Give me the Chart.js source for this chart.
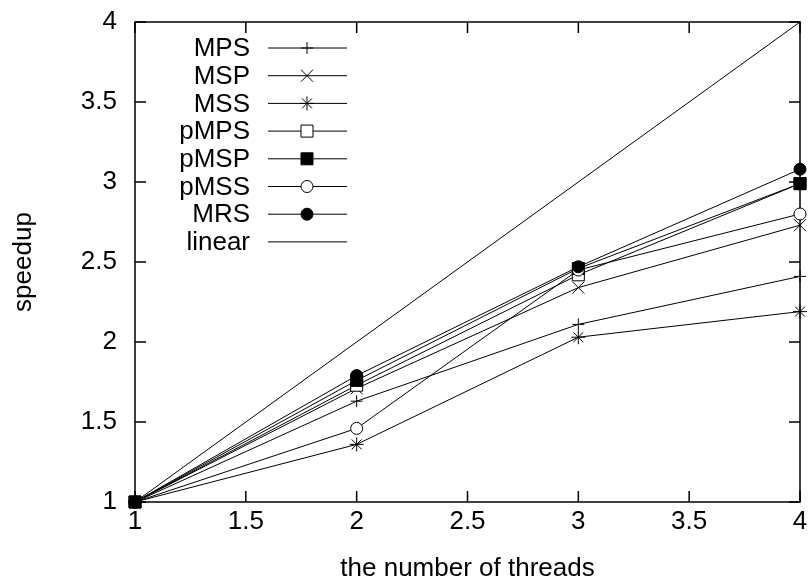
<!DOCTYPE html>
<html>
<head>
<meta charset="utf-8">
<script src="https://cdn.jsdelivr.net/npm/chart.js@4/dist/chart.umd.min.js"></script>
<style>
html,body{margin:0;padding:0;background:#fff;}
#wrap{width:811px;height:586px;position:relative;}
</style>
</head>
<body>
<div id="wrap"><canvas id="c"></canvas></div>
<script>
// ---- data ----
const threads = [1, 2, 3, 4];
const seriesNames = ['MPS', 'MSP', 'MSS', 'pMPS', 'pMSP', 'pMSS', 'MRS', 'linear'];
const MPS    = [1, 1.63, 2.11, 2.41];
const MSP    = [1, 1.71, 2.34, 2.73];
const MSS    = [1, 1.36, 2.03, 2.19];
const pMPS   = [1, 1.73, 2.42, 2.99];
const pMSP   = [1, 1.76, 2.46, 2.99];
const pMSS   = [1, 1.46, 2.45, 2.80];
const MRS    = [1, 1.79, 2.47, 3.08];
const linear = [1, 2, 3, 4];
const xTicks = [1, 1.5, 2, 2.5, 3, 3.5, 4];
const yTicks = [1, 1.5, 2, 2.5, 3, 3.5, 4];
const xTickLabels = ['1', '1.5', '2', '2.5', '3', '3.5', '4'];
const yTickLabels = ['1', '1.5', '2', '2.5', '3', '3.5', '4'];

const FONT = '"Liberation Sans", Arial, sans-serif';
const FS = 26;

const styles = [
  {pointStyle: 'cross',    radius: 6,   fill: '#000'},
  {pointStyle: 'crossRot', radius: 8.5, fill: '#000'},
  {pointStyle: 'star',     radius: 7,   fill: '#000'},
  {pointStyle: 'rect',     radius: 8.5, fill: '#fff'},
  {pointStyle: 'rect',     radius: 8.5, fill: '#000'},
  {pointStyle: 'circle',   radius: 6,   fill: '#fff'},
  {pointStyle: 'circle',   radius: 6,   fill: '#000'},
  {pointStyle: false,      radius: 0,   fill: '#000'}
];
const allValues = [MPS, MSP, MSS, pMPS, pMSP, pMSS, MRS, linear];

const datasets = allValues.map((vals, i) => ({
  label: seriesNames[i],
  data: threads.map((t, k) => ({x: t, y: vals[k]})),
  borderColor: '#000',
  borderWidth: 1,
  backgroundColor: styles[i].fill,
  pointStyle: styles[i].pointStyle,
  pointRadius: styles[i].radius,
  pointHoverRadius: styles[i].radius,
  pointBorderColor: '#000',
  pointBackgroundColor: styles[i].fill,
  pointBorderWidth: 1,
  tension: 0,
  fill: false,
  clip: false,
  order: allValues.length - i
}));

// frame + inward ticks on all four sides
const framePlugin = {
  id: 'frame',
  beforeDatasetsDraw(chart) {
    const {ctx, chartArea: a, scales} = chart;
    ctx.save();
    ctx.strokeStyle = '#000';
    ctx.lineWidth = 1.5;
    ctx.strokeRect(a.left, a.top, a.right - a.left, a.bottom - a.top);
    const tl = 11;
    ctx.beginPath();
    xTicks.forEach(v => {
      const px = scales.x.getPixelForValue(v);
      ctx.moveTo(px, a.bottom); ctx.lineTo(px, a.bottom - tl);
      ctx.moveTo(px, a.top); ctx.lineTo(px, a.top + tl);
    });
    yTicks.forEach(v => {
      const py = scales.y.getPixelForValue(v);
      ctx.moveTo(a.left, py); ctx.lineTo(a.left + tl, py);
      ctx.moveTo(a.right, py); ctx.lineTo(a.right - tl, py);
    });
    ctx.stroke();
    ctx.restore();
  }
};

// gnuplot-style legend: right-aligned text, then line sample with marker
const legendPlugin = {
  id: 'gpLegend',
  afterDraw(chart) {
    const {ctx, chartArea: a} = chart;
    const textRight = a.left + 115;
    const lineL = a.left + 133, lineR = a.left + 212, mark = a.left + 172;
    const top = a.top + 26, step = 27.7;
    chart.data.datasets.forEach((ds, i) => {
      const y = top + i * step;
      ctx.save();
      ctx.font = FS + 'px ' + FONT;
      ctx.fillStyle = '#000';
      ctx.textAlign = 'right';
      ctx.textBaseline = 'middle';
      ctx.fillText(ds.label, textRight, y + 1);
      ctx.strokeStyle = '#000';
      ctx.lineWidth = 1;
      ctx.beginPath();
      ctx.moveTo(lineL, y); ctx.lineTo(lineR, y);
      ctx.stroke();
      if (ds.pointStyle) {
        ctx.fillStyle = ds.pointBackgroundColor;
        ctx.strokeStyle = '#000';
        ctx.lineWidth = 1;
        Chart.helpers.drawPoint(ctx, {pointStyle: ds.pointStyle, radius: ds.pointRadius, borderWidth: 1, rotation: 0}, mark, y);
      }
      ctx.restore();
    });
  }
};

new Chart(document.getElementById('c'), {
  type: 'line',
  data: {datasets},
  options: {
    responsive: true,
    maintainAspectRatio: false,
    animation: false,
    events: [],
    layout: {padding: {top: 22, right: 11, left: 0, bottom: 0}},
    plugins: {legend: {display: false}, tooltip: {enabled: false}},
    scales: {
      x: {
        type: 'linear', min: 1, max: 4,
        afterBuildTicks: s => { s.ticks = xTicks.map(v => ({value: v})); },
        afterFit: s => { s.height = 84; s.paddingLeft = 0; s.paddingRight = 0; },
        grid: {display: false, drawTicks: false},
        border: {display: false},
        ticks: {color: '#000', font: {family: FONT, size: FS}, padding: 4, maxRotation: 0, autoSkip: false,
                callback: (v, i) => xTickLabels[i]},
        title: {display: true, text: 'the number of threads', color: '#000', font: {family: FONT, size: FS}, padding: {top: 0, bottom: 2}}
      },
      y: {
        type: 'linear', min: 1, max: 4,
        afterBuildTicks: s => { s.ticks = yTicks.map(v => ({value: v})); },
        afterFit: s => { s.width = 135; s.paddingTop = 0; s.paddingBottom = 0; },
        grid: {display: false, drawTicks: false},
        border: {display: false},
        ticks: {color: '#000', font: {family: FONT, size: FS}, padding: 18, autoSkip: false,
                callback: (v, i) => yTickLabels[i]},
        title: {display: true, text: 'speedup', color: '#000', font: {family: FONT, size: FS}, padding: {top: 8, bottom: 0}}
      }
    }
  },
  plugins: [framePlugin, legendPlugin]
});
</script>
</body>
</html>
